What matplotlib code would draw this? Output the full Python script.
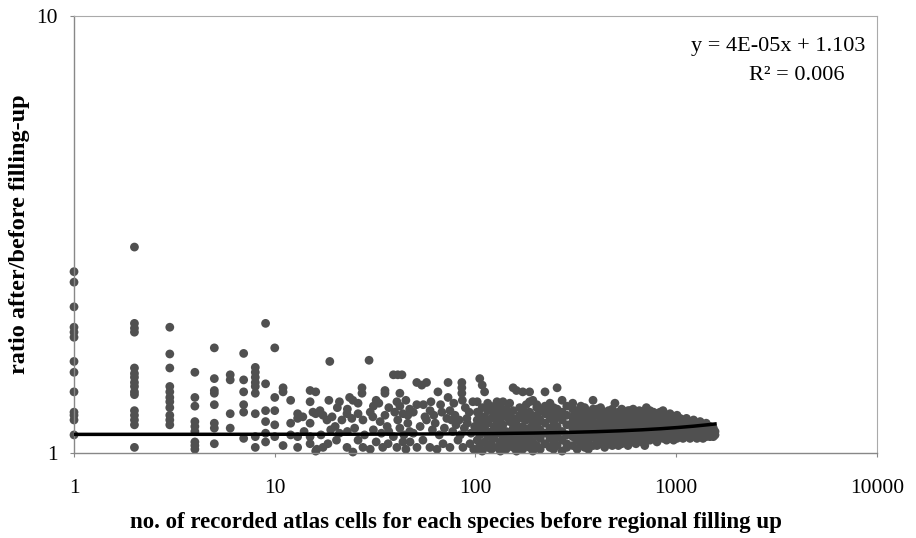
import numpy as np
import matplotlib
matplotlib.use("Agg")
import matplotlib.pyplot as plt

plt.rcParams['font.family'] = ['Liberation Serif', 'DejaVu Serif']

## species with few recorded cells (1 - 16)
x_few = [1]*13 + [2]*16 + [3]*11 + [4]*9 + [5]*8 + [6]*4 + [7]*6 + [8]*9 + [9]*6 + [10]*5 \
    + [11, 11, 11, 12, 12, 12, 13, 13, 13, 13, 15, 15, 15, 15, 15, 16, 16, 16]
y_few = [2.60, 2.46, 2.16, 1.94, 1.89, 1.84, 1.62, 1.53, 1.38, 1.24, 1.22, 1.19, 1.10,
         2.96, 1.98, 1.93, 1.89, 1.565, 1.52, 1.49, 1.45, 1.42, 1.38, 1.36, 1.25, 1.22, 1.19, 1.16, 1.03,
         1.94, 1.685, 1.565, 1.42, 1.38, 1.34, 1.31, 1.27, 1.22, 1.19, 1.16,
         1.53, 1.34, 1.28, 1.18, 1.15, 1.12, 1.06, 1.04, 1.02,
         1.74, 1.48, 1.39, 1.37, 1.29, 1.17, 1.14, 1.05,
         1.51, 1.47, 1.23, 1.14,
         1.69, 1.47, 1.38, 1.29, 1.24, 1.08,
         1.57, 1.53, 1.49, 1.45, 1.42, 1.37, 1.23, 1.09, 1.03,
         1.98, 1.44, 1.25, 1.18, 1.11, 1.06,
         1.74, 1.34, 1.25, 1.16, 1.09,
         1.41, 1.38, 1.04, 1.32, 1.17, 1.10, 1.23, 1.20, 1.09, 1.03,
         1.39, 1.31, 1.17, 1.09, 1.05, 1.38, 1.23, 1.01]

## 17 - 100 cells
x_mid = [18.8, 29.5, 39, 41, 43, 18.6, 21, 23.6, 24.5, 27.2, 27.2, 26, 32, 33, 35.4, 35.4, 40.6, 45,
         13.8, 15.5, 16.8, 17.4, 18.2, 19.3, 20, 21.6, 22.9, 24.2, 26, 27.5, 29.9, 30.8, 33.5,
         35.4, 36.3, 39.6, 41, 43.5, 46,
         16.2, 17.4, 18.4, 20.3, 22.9, 24.5, 26, 27.5, 29.9, 32, 34.5, 36.7, 40.6, 43.5, 45,
         14, 17, 19, 21, 23, 25, 28, 31, 34, 37, 39, 42, 44, 47,
         20.5, 23, 31, 37, 42, 47,
         51, 54, 57, 73, 85.5, 85.5, 85.5, 86, 65, 73, 42, 97,
         51, 55, 59.4, 49, 68, 74.6, 79, 83, 90.6,
         47.2, 51.1, 54.7, 59.3, 64.3, 68.9, 74.6, 81.8, 86.6, 93.9, 98,
         49, 53, 57, 61, 63, 66, 70, 72, 77, 80, 84, 88, 91, 95, 99, 56, 62, 76, 93, 89, 67, 78, 46, 60]
y_mid = [1.62, 1.63, 1.51, 1.51, 1.51, 1.32, 1.31, 1.34, 1.32, 1.41, 1.37, 1.30, 1.32, 1.30, 1.39, 1.37, 1.31, 1.32,
         1.21, 1.24, 1.25, 1.22, 1.19, 1.21, 1.15, 1.19, 1.23, 1.20, 1.23, 1.19, 1.24, 1.21, 1.18,
         1.22, 1.15, 1.24, 1.19, 1.23, 1.17,
         1.02, 1.03, 1.05, 1.07, 1.03, 1.005, 1.07, 1.03, 1.02, 1.06, 1.03, 1.05, 1.03, 1.06, 1.02,
         1.12, 1.10, 1.13, 1.11, 1.12, 1.14, 1.10, 1.13, 1.11, 1.12, 1.09, 1.14, 1.10, 1.12,
         1.27, 1.26, 1.28, 1.27, 1.28, 1.26,
         1.45, 1.43, 1.45, 1.45, 1.45, 1.41, 1.37, 1.32, 1.38, 1.34, 1.37, 1.31,
         1.29, 1.29, 1.25, 1.24, 1.24, 1.25, 1.22, 1.19, 1.20,
         1.06, 1.03, 1.07, 1.03, 1.02, 1.05, 1.03, 1.07, 1.03, 1.05, 1.02,
         1.11, 1.15, 1.19, 1.13, 1.17, 1.10, 1.14, 1.20, 1.12, 1.16, 1.10, 1.14, 1.17, 1.11, 1.15,
         1.21, 1.22, 1.19, 1.24, 1.27, 1.29, 1.30, 1.22, 1.31]

## 100 - 300 cells
x_many = [102]*6 + [105]*5 + [108]*5 + [111]*4 + [115]*5 + [120]*5 + [124]*4 + [128]*5 + [133]*5 \
    + [137]*5 + [142]*5 + [148]*5 + [154]*6 + [160]*6 + [166]*5 + [172]*6 + [179]*5 + [186]*6 \
    + [193]*6 + [202]*6 + [210]*5 + [222]*6 + [235]*6 + [245]*6 + [255]*6 + [270]*6 + [285]*6
y_many = [1.02, 1.07, 1.13, 1.19, 1.24, 1.31,
          1.48, 1.04, 1.16, 1.22, 1.10,
          1.43, 1.01, 1.12, 1.27, 1.18,
          1.38, 1.06, 1.14, 1.21,
          1.03, 1.09, 1.25, 1.17, 1.30,
          1.25, 1.05, 1.12, 1.20, 1.02,
          1.08, 1.15, 1.22, 1.28,
          1.31, 1.03, 1.11, 1.18, 1.24,
          1.27, 1.06, 1.14, 1.20, 1.01,
          1.31, 1.09, 1.16, 1.23, 1.04,
          1.21, 1.02, 1.12, 1.26, 1.07,
          1.30, 1.05, 1.10, 1.18, 1.24,
          1.41, 1.25, 1.03, 1.14, 1.20, 1.08,
          1.39, 1.19, 1.06, 1.11, 1.16, 1.01,
          1.22, 1.04, 1.13, 1.27, 1.09,
          1.38, 1.25, 1.02, 1.15, 1.20, 1.07,
          1.19, 1.05, 1.11, 1.23, 1.29,
          1.38, 1.24, 1.03, 1.14, 1.31, 1.09,
          1.32, 1.17, 1.06, 1.21, 1.01, 1.12,
          1.27, 1.29, 1.04, 1.10, 1.16, 1.22,
          1.08, 1.19, 1.25, 1.02, 1.13,
          1.38, 1.23, 1.05, 1.11, 1.17, 1.28,
          1.30, 1.20, 1.03, 1.08, 1.14, 1.25,
          1.12, 1.02, 1.18, 1.22, 1.06, 1.27,
          1.41, 1.26, 1.04, 1.09, 1.15, 1.21,
          1.32, 1.19, 1.01, 1.07, 1.12, 1.24,
          1.10, 1.03, 1.16, 1.22, 1.28, 1.05]

## common species, 300 - 1560 cells
x_common = [305]*7 + [321]*6 + [335]*6 + [350]*6 + [365]*6 + [385]*7 + [403]*6 + [420]*6 + [440]*6 \
    + [460]*6 + [480]*6 + [495]*5 + [515]*6 + [535]*6 + [555]*5 + [575]*6 + [588]*6 + [610]*6 \
    + [630]*6 + [655]*6 + [675]*6 + [697]*6 + [710]*5 + [740]*6 + [770]*5 + [802]*6 + [830]*5 \
    + [859]*5 + [895]*5 + [931]*5 + [970]*5 + [1009]*5 + [1045]*4 + [1081]*5 + [1125]*5 \
    + [1171]*5 + [1220]*5 + [1268]*5 + [1315]*5 + [1359]*4 + [1410]*4 + [1472]*4 + [1530]*3 + [1560]*2
y_common = [1.30, 1.21, 1.04, 1.09, 1.14, 1.26, 1.18,
            1.25, 1.02, 1.07, 1.12, 1.17, 1.22,
            1.19, 1.05, 1.10, 1.15, 1.23, 1.28,
            1.27, 1.03, 1.08, 1.13, 1.18, 1.22,
            1.24, 1.06, 1.11, 1.16, 1.20, 1.02,
            1.32, 1.21, 1.04, 1.09, 1.14, 1.18, 1.26,
            1.26, 1.07, 1.11, 1.16, 1.22, 1.04,
            1.23, 1.05, 1.09, 1.13, 1.19, 1.27,
            1.20, 1.06, 1.10, 1.15, 1.24, 1.03,
            1.25, 1.08, 1.12, 1.17, 1.21, 1.05,
            1.22, 1.04, 1.09, 1.14, 1.18, 1.26,
            1.30, 1.07, 1.11, 1.16, 1.23,
            1.24, 1.06, 1.10, 1.13, 1.19, 1.04,
            1.21, 1.08, 1.12, 1.16, 1.26, 1.05,
            1.23, 1.06, 1.09, 1.14, 1.18,
            1.25, 1.07, 1.11, 1.15, 1.20, 1.04,
            1.25, 1.09, 1.13, 1.17, 1.22, 1.06,
            1.22, 1.06, 1.10, 1.14, 1.18, 1.26,
            1.24, 1.08, 1.12, 1.16, 1.20, 1.05,
            1.21, 1.07, 1.10, 1.14, 1.18, 1.25,
            1.23, 1.09, 1.12, 1.16, 1.20, 1.06,
            1.04, 1.08, 1.11, 1.15, 1.19, 1.24,
            1.27, 1.13, 1.17, 1.21, 1.09,
            1.22, 1.07, 1.11, 1.15, 1.19, 1.25,
            1.20, 1.09, 1.13, 1.17, 1.24,
            1.23, 1.08, 1.12, 1.16, 1.20, 1.06,
            1.21, 1.10, 1.14, 1.18, 1.24,
            1.25, 1.08, 1.12, 1.16, 1.20,
            1.22, 1.09, 1.13, 1.17, 1.07,
            1.23, 1.10, 1.14, 1.19, 1.08,
            1.21, 1.09, 1.13, 1.17, 1.07,
            1.22, 1.10, 1.14, 1.18, 1.08,
            1.20, 1.09, 1.12, 1.16,
            1.19, 1.10, 1.13, 1.16, 1.08,
            1.20, 1.11, 1.14, 1.17, 1.09,
            1.18, 1.10, 1.13, 1.16, 1.08,
            1.19, 1.11, 1.14, 1.17, 1.09,
            1.17, 1.10, 1.13, 1.15, 1.08,
            1.18, 1.11, 1.14, 1.16, 1.09,
            1.16, 1.10, 1.13, 1.08,
            1.17, 1.11, 1.14, 1.09,
            1.15, 1.10, 1.12, 1.09,
            1.14, 1.11, 1.09,
            1.12, 1.10]

# linear trend (slope, intercept, r2)
slope = 4e-05
intercept = 1.103
r2 = 0.006
x_trend_max = 1560

fig = plt.figure(figsize=(9.16, 5.38), dpi=100)
ax = fig.add_axes([0.0808, 0.158, 0.8766, 0.8122])

dot = dict(s=40, color='#505050', edgecolors='none', zorder=2, clip_on=False)
ax.scatter(x_few, y_few, **dot)
ax.scatter(x_mid, y_mid, **dot)
ax.scatter(x_many, y_many, **dot)
ax.scatter(x_common, y_common, **dot)

xt = np.linspace(1, x_trend_max, 400)
ax.plot(xt, slope * xt + intercept, color='black', linewidth=2.5, zorder=3)

ax.set_xscale('log')
ax.set_yscale('log')
ax.set_xlim(1, 10000)
ax.set_ylim(1, 10)
ax.set_xticks([1, 10, 100, 1000, 10000])
ax.set_xticklabels(['1', '10', '100', '1000', '10000'])
ax.set_yticks([1, 10])
ax.set_yticklabels(['1', '10'])
ax.minorticks_off()
ax.tick_params(labelsize=15.5, length=3, color='#888888')
ax.tick_params(axis='x', pad=16)
ax.tick_params(axis='y', pad=9)

for side in ['top', 'right']:
    ax.spines[side].set_color('#aaaaaa')
    ax.spines[side].set_linewidth(0.8)
for side in ['left', 'bottom']:
    ax.spines[side].set_color('#888888')
    ax.spines[side].set_linewidth(1.0)

ax.set_xlabel('no. of recorded atlas cells for each species before regional filling up',
              fontsize=16.5, fontweight='bold')
ax.xaxis.set_label_coords(0.476, -0.135)
ax.set_ylabel('ratio after/before filling-up', fontsize=17.5, fontweight='bold')
ax.yaxis.set_label_coords(-0.055, 0.5)

ax.text(0.985, 0.93, 'y = 4E-05x + 1.103', transform=ax.transAxes,
        ha='right', va='center', fontsize=16)
ax.text(0.9, 0.864, 'R\u00b2 = 0.006', transform=ax.transAxes,
        ha='center', va='center', fontsize=16)

fig.savefig('out.png', dpi=100)
